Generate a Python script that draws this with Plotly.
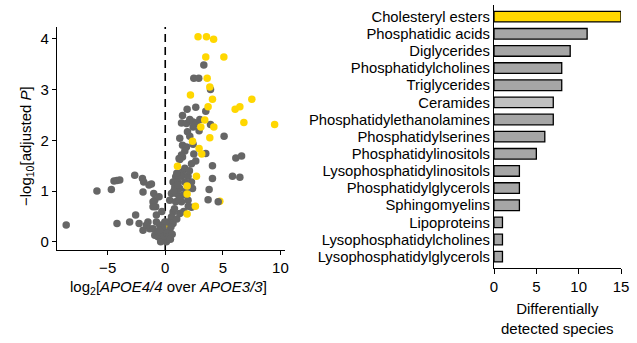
import plotly.graph_objects as go

# ---------------- data ----------------
# Volcano plot: grey (not significant) points
grey_x = [3.35, 2.48, 2.91, 3.93, 1.9, 2.65, 3.52, 1.5, 1.41, 1.84, 2.13, 2.42, 2.71, 3.0, 2.42, 3.93,
          2.94, 1.93, 2.13, 1.26, 5.11, 1.5, 1.84, 2.42, 1.7, 2.48, 3.52, 1.41, 1.2, 6.13, 6.63, 2.65, 4.1,
          1.5, 1.26, 2.28, 1.5, 0.91, 1.41, 1.98, 0.68, 1.11, 1.7, 2.28, 0.83, 1.26, 2.37, 0.54, 0.97, 1.5,
          0.39, 0.91, 1.41, 1.98, 2.28, 0.68, 1.26, 0.54, 0.25, 0.68, 0.39, 0.25, 3.81, 4.1, 3.72, 4.6,
          5.84, 6.48, 1.0, 1.7, 0.75, 1.2, 1.8, 2.0, 1.6, 1.0, 0.5, 0.8, 1.1, 2.1,
          -8.6, -5.93, -4.68, -4.45, -4.2, -3.95, -4.19, -3.09, -2.65, -2.57, -2.27, -1.98, -1.87, -1.93,
          -1.5, -1.41, -1.2, -1.0, -0.91, -0.83, -0.77, -0.54, -1.93, -1.63, -1.35, -1.06, -0.91, -0.63,
          -0.33, -0.19, -0.48, -0.04, -0.6, 0.0, 0.1, -1.06, -1.06, -0.3, -0.2, -0.4, -0.1, -0.77, -0.48,
          0.15, 0.3, 0.45, 0.6]
grey_y = [3.48, 3.22, 3.22, 3.0, 2.61, 2.65, 2.57, 2.49, 2.34, 2.33, 2.41, 2.36, 2.33, 2.41, 2.26, 2.31,
          2.19, 2.17, 2.08, 2.04, 2.08, 1.9, 1.87, 1.92, 1.79, 1.73, 1.74, 1.71, 1.64, 1.65, 1.69, 1.59, 1.5,
          1.67, 1.62, 1.54, 1.38, 1.28, 1.29, 1.29, 1.18, 1.18, 1.18, 1.18, 1.08, 1.05, 1.05, 0.95, 0.95, 0.92,
          0.82, 0.79, 0.79, 0.82, 0.68, 0.59, 0.56, 0.49, 0.39, 0.36, 0.23, 0.13, 1.03, 1.25, 0.83, 0.79,
          1.29, 1.27, 1.35, 1.45, 1.0, 0.85, 1.0, 0.7, 0.6, 0.45, 0.3, 0.65, 1.12, 1.4,
          0.33, 1.0, 1.03, 1.2, 1.21, 1.22, 0.36, 0.39, 1.31, 0.53, 0.36, 1.25, 1.18, 0.98,
          0.39, 1.12, 1.14, 0.95, 0.82, 0.69, 0.53, 0.89, 0.23, 0.33, 0.26, 0.26, 0.13, 0.1,
          0.07, 0.2, 0.33, 0.39, 0.2, 0.05, 0.0, 0.79, 0.69, 0.6, 0.28, 0.0, 0.12, 0.39, 0.23,
          0.18, 0.1, 0.05, 0.15]

# Volcano plot: yellow (significant) points
yellow_x = [2.85, 3.58, 4.2, 3.52, 5.09, 3.64, 3.87, 2.19, 4.1, 7.52, 3.72, 6.07, 6.48, 3.43, 3.09, 4.22,
            6.83, 9.5, 3.87, 2.37, 2.94, 3.17, 1.06, 2.71, 1.9, 1.9, 2.62, 1.9]
yellow_y = [4.04, 4.04, 3.99, 3.64, 3.64, 3.22, 3.05, 2.89, 2.81, 2.81, 2.66, 2.61, 2.66, 2.4, 2.26, 2.26,
            2.35, 2.31, 2.05, 1.98, 1.84, 1.73, 1.49, 1.29, 1.1, 0.94, 0.7, 0.55]
# yellow points partly hidden behind grey ones
yellow_under_x = [4.74, 0.25, 0.25]
yellow_under_y = [0.8, 0.33, 0.07]

volcano_xticks = [-5, 0, 5, 10]
volcano_yticks = [0, 1, 2, 3, 4]

# Bar chart
lipid_classes = ["Cholesteryl esters", "Phosphatidic acids", "Diglycerides", "Phosphatidylcholines",
                 "Triglycerides", "Ceramides", "Phosphatidylethanolamines", "Phosphatidylserines",
                 "Phosphatidylinositols", "Lysophosphatidylinositols", "Phosphatidylglycerols",
                 "Sphingomyelins", "Lipoproteins", "Lysophosphatidylcholines", "Lysophosphatidylglycerols"]
species_counts = [15, 11, 9, 8, 8, 7, 7, 6, 5, 3, 3, 3, 1, 1, 1]
bar_xticks = [0, 5, 10, 15]

# ---------------- styling ----------------
W, H = 637, 343
FONT = "Liberation Sans, Arial, sans-serif"
FS = 15
FS_CAT = 14.8
GREY_PT = "#666666"
YELLOW = "#FFD700"
BAR_GREY = "#A6A6A6"
BAR_LIGHT = "#C0C0C0"

def bar_color(name):
    if name == "Cholesteryl esters":
        return YELLOW
    if name == "Ceramides":
        return BAR_LIGHT
    return BAR_GREY

fig = go.Figure()

mk = dict(size=7.5, line=dict(width=0))
fig.add_trace(go.Scatter(x=yellow_under_x, y=yellow_under_y, mode="markers",
                         marker=dict(color=YELLOW, **mk), xaxis="x", yaxis="y", showlegend=False))
fig.add_trace(go.Scatter(x=grey_x, y=grey_y, mode="markers",
                         marker=dict(color=GREY_PT, **mk), xaxis="x", yaxis="y", showlegend=False))
fig.add_trace(go.Scatter(x=yellow_x, y=yellow_y, mode="markers",
                         marker=dict(color=YELLOW, **mk), xaxis="x", yaxis="y", showlegend=False))

fig.add_trace(go.Bar(x=species_counts, y=lipid_classes, orientation="h",
                     marker=dict(color=[bar_color(c) for c in lipid_classes],
                                 line=dict(color="black", width=1.3)),
                     width=0.62, xaxis="x2", yaxis="y2", showlegend=False))

# dashed zero line
fig.add_shape(type="line", xref="x", yref="paper", x0=0, x1=0,
              y0=(H - 250) / H, y1=(H - 27) / H,
              line=dict(color="black", width=1.6, dash="8px,5px"), layer="below")

axis_common = dict(showgrid=False, zeroline=False, showline=True, linecolor="black", linewidth=1.3,
                   ticks="outside", ticklen=4, tickwidth=1.2, tickcolor="black", automargin=False,
                   tickfont=dict(family=FONT, size=FS, color="black"))

fig.update_layout(
    template="none",
    width=W, height=H, margin=dict(l=0, r=0, t=0, b=0, pad=0), autosize=False,
    paper_bgcolor="white", plot_bgcolor="white",
    font=dict(family=FONT, size=FS, color="black"),
    xaxis=dict(domain=[57 / W, 285 / W], range=[-9.4, 10.4], tickvals=volcano_xticks,
               ticktext=["\u22125", "0", "5", "10"], anchor="y", **axis_common),
    yaxis=dict(domain=[(H - 250) / H, (H - 27) / H], range=[-0.16, 4.23], tickvals=volcano_yticks,
               anchor="x", **axis_common),
    xaxis2=dict(domain=[494 / W, 621 / W], range=[0, 15], tickvals=bar_xticks, anchor="y2",
                **{**axis_common, "ticklen": 5}),
    yaxis2=dict(domain=[(H - 268.3) / H, (H - 5) / H], range=[14.68, -0.68], type="category",
                categoryorder="array", categoryarray=lipid_classes, anchor="x2",
                tickmode="array", tickvals=lipid_classes, ticktext=lipid_classes,
                **{**axis_common, "ticks": "", "ticklen": 0,
                   "tickfont": dict(family=FONT, size=FS_CAT, color="black")}),
    bargap=0.38,
)

fig.add_annotation(text="\u2212log<sub>10</sub>[adjusted <i>P</i>]", textangle=-90,
                   xref="paper", yref="paper", x=27 / W, y=1 - 146 / H,
                   showarrow=False, font=dict(family=FONT, size=FS), xanchor="center", yanchor="middle")
fig.add_annotation(text="log<sub>2</sub>[<i>APOE4/4</i> over <i>APOE3/3</i>]",
                   xref="paper", yref="paper", x=168 / W, y=1 - 287 / H,
                   showarrow=False, font=dict(family=FONT, size=FS), xanchor="center", yanchor="middle")
fig.add_annotation(text="Differentially<br>detected species",
                   xref="paper", yref="paper", x=557.5 / W, y=1 - 318 / H,
                   showarrow=False, font=dict(family=FONT, size=FS), xanchor="center", yanchor="middle")

fig.write_html("out.html")
